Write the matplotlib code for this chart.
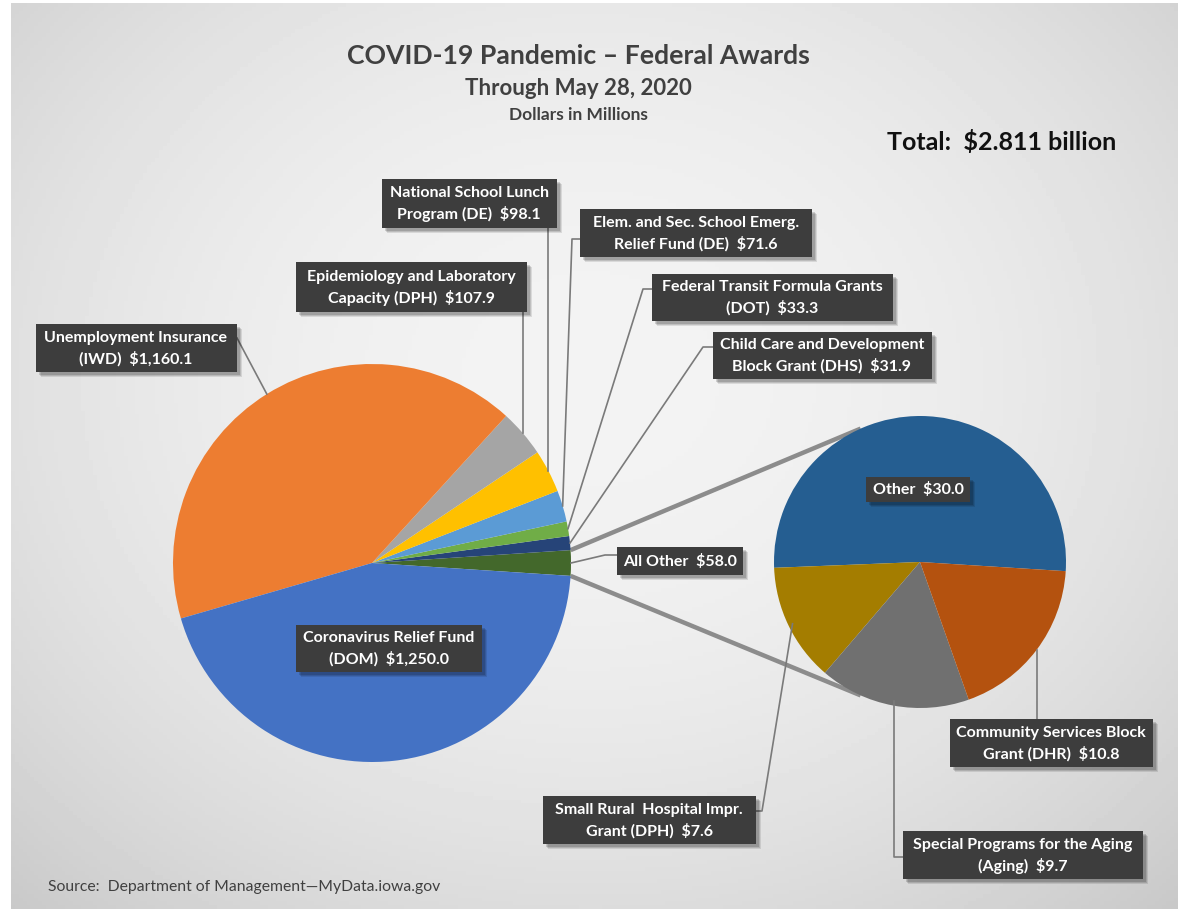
import numpy as np
import matplotlib.pyplot as plt
from matplotlib.patches import Rectangle

# main pie, counter-clockwise starting from the "All Other" slice
main_names = [
    "All Other",
    "Child Care and Development\nBlock Grant (DHS)",
    "Federal Transit Formula Grants\n(DOT)",
    "Elem. and Sec. School Emerg.\nRelief Fund (DE)",
    "National School Lunch\nProgram (DE)",
    "Epidemiology and Laboratory\nCapacity (DPH)",
    "Unemployment Insurance\n(IWD)",
    "Coronavirus Relief Fund\n(DOM)",
]
main_values = [58.0, 31.9, 33.3, 71.6, 98.1, 107.9, 1160.1, 1250.0]
main_colors = ["#43682B", "#264478", "#70AD47", "#5B9BD5",
               "#FFC000", "#A5A5A5", "#ED7D31", "#4472C4"]

# secondary pie (breakdown of "All Other")
sub_names = [
    "Other",
    "Small Rural  Hospital Impr.\nGrant (DPH)",
    "Special Programs for the Aging\n(Aging)",
    "Community Services Block\nGrant (DHR)",
]
sub_values = [30.0, 7.6, 9.7, 10.8]
sub_colors = ["#255E91", "#A47D00", "#707070", "#B4520F"]

W, H = 1181, 912


def Y(v):
    return H - v


plt.rcParams.update({"font.family": ["Lato", "DejaVu Sans"]})

fig = plt.figure(figsize=(W / 100, H / 100), dpi=100)
fig.patch.set_facecolor("white")
ax = fig.add_axes([0, 0, 1, 1])

# slide background, light centre fading to grey edges
gx, gy = np.meshgrid(np.linspace(11, 1178, 300), np.linspace(4, 910, 240))
r2 = ((gx - 590) / 620) ** 2 + ((gy - 380) / 520) ** 2
shade = np.clip(243 - 22 * r2, 190, 245) / 255
ax.imshow(shade, cmap="gray", vmin=0, vmax=1, extent=(11, 1178, Y(910), Y(4)),
          origin="upper", aspect="auto", zorder=0)

# main pie
c1, R1 = (372, Y(564)), 199
start1 = -main_values[0] / sum(main_values) * 180
w1, _ = ax.pie(main_values, colors=main_colors, startangle=start1,
               center=c1, radius=R1, wedgeprops=dict(linewidth=0))

# secondary pie
c2, R2 = (920, Y(563)), 146
w2, _ = ax.pie(sub_values, colors=sub_colors, startangle=-3.6,
               center=c2, radius=R2, wedgeprops=dict(linewidth=0))
for w in w1 + w2:
    w.set_zorder(2)

# connector lines between the pies
other = w1[0]
for t1, t2 in [(other.theta2, 114), (other.theta1, 246)]:
    p = (c1[0] + R1 * np.cos(np.radians(t1)), c1[1] + R1 * np.sin(np.radians(t1)))
    q = (c2[0] + R2 * np.cos(np.radians(t2)), c2[1] + R2 * np.sin(np.radians(t2)))
    ax.plot([p[0], q[0]], [p[1], q[1]], color="#8c8c8c", lw=3.2,
            solid_capstyle="butt", zorder=1.5)


def edge(w, cen, R, f=1.0):
    m = np.radians((w.theta1 + w.theta2) / 2)
    return cen[0] + f * R * np.cos(m), cen[1] + f * R * np.sin(m)


def box(cx, cy, bw, bh, text):
    cy = Y(cy)
    for k, a in [(5, 0.10), (4, 0.12), (3, 0.15)]:
        ax.add_patch(Rectangle((cx - bw / 2 + k, cy - bh / 2 - k), bw, bh,
                               fc="black", ec="none", alpha=a, zorder=5))
    ax.add_patch(Rectangle((cx - bw / 2, cy - bh / 2), bw, bh,
                           fc="#3d3d3d", ec="none", zorder=6))
    ax.text(cx, cy, text, ha="center", va="center", color="white",
            fontsize=11.5, fontweight="bold", linespacing=1.5, zorder=7)


def label(name, v):
    return f"{name}  ${v:,.1f}"


# box layout: centre x, centre y, width, height (pixels from top-left)
main_boxes = [
    (680, 562, 126, 28),
    (822, 356, 219, 47),
    (772, 298, 241, 47),
    (696, 234, 232, 48),
    (469, 204, 175, 49),
    (411, 288, 231, 50),
    (136, 349, 201, 48),
    (389, 649, 186, 47),
]
sub_boxes = [
    (918, 490, 104, 25),
    (649, 821, 213, 48),
    (1023, 856, 240, 48),
    (1051, 744, 203, 48),
]

for n, v, b in zip(main_names, main_values, main_boxes):
    box(*b, label(n, v))
for n, v, b in zip(sub_names, sub_values, sub_boxes):
    box(*b, label(n, v))

# leader lines
lc = dict(color="#7a7a7a", lw=1.2, zorder=3)
ex, ey = edge(w1[0], c1, R1)
ax.plot([617, 605, ex], [Y(556), Y(556), ey], **lc)
ex, ey = edge(w1[1], c1, R1)
ax.plot([713, 703, ex], [Y(348), Y(348), ey], **lc)
ex, ey = edge(w1[2], c1, R1)
ax.plot([652, 643, ex], [Y(290), Y(290), ey], **lc)
ex, ey = edge(w1[3], c1, R1)
ax.plot([580, 572, ex], [Y(240), Y(240), ey], **lc)
ex, ey = edge(w1[4], c1, R1)
ax.plot([ex, ex], [Y(229), ey], **lc)
ex, ey = edge(w1[5], c1, R1)
ax.plot([ex, ex], [Y(313), ey], **lc)
ex, ey = edge(w1[6], c1, R1)
ax.plot([237, ex], [Y(339), ey], **lc)

ex, ey = edge(w2[1], c2, R2, 0.97)
ax.plot([756, 762, ex], [Y(812), Y(812), ey], **lc)
ex, ey = edge(w2[2], c2, R2, 0.97)
ax.plot([903, ex, ex], [Y(858), Y(858), ey], **lc)
ex, ey = edge(w2[3], c2, R2, 1.0)
ax.plot([ex, ex], [Y(720), ey], **lc)

# titles
ax.text(578, Y(56), "COVID-19 Pandemic \u2013 Federal Awards", ha="center",
        va="center", fontsize=19.2, fontweight="bold", color="#404040")
ax.text(578, Y(88), "Through May 28, 2020", ha="center", va="center",
        fontsize=16, fontweight="bold", color="#404040")
ax.text(578, Y(115), "Dollars in Millions", ha="center", va="center",
        fontsize=12.5, fontweight="bold", color="#404040")
ax.text(1002, Y(142), "Total:  $2.811 billion", ha="center", va="center",
        fontsize=18, fontweight="bold", color="#111111")
ax.text(48, Y(887), "Source:  Department of Management\u2014MyData.iowa.gov",
        ha="left", va="center", fontsize=11.3, color="#404040")

ax.set_xlim(0, W)
ax.set_ylim(0, H)
ax.set_aspect("auto")
ax.axis("off")

fig.savefig("out.png", dpi=100)
